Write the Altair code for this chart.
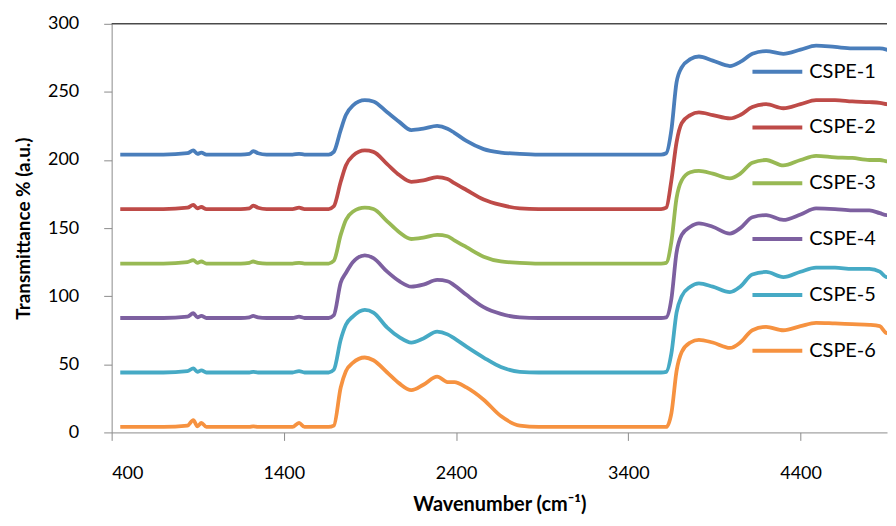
import altair as alt
import pandas as pd

series = ["CSPE-1", "CSPE-2", "CSPE-3", "CSPE-4", "CSPE-5", "CSPE-6"]
colors = ["#4A7EBB", "#BE4B48", "#98B954", "#7D60A0", "#46AAC5", "#F69240"]

wn = [450, 700, 840, 874, 898, 921, 950, 1150, 1200, 1222, 1250, 1300, 1450, 1488, 1520,
      1660, 1690, 1730, 1760, 1800, 1870, 1920, 2000, 2070, 2140, 2210, 2290, 2350, 2390,
      2460, 2560, 2660, 2770, 2880, 3000, 3590, 3620, 3650, 3680, 3710, 3760, 3810, 3890,
      3990, 4050, 4120, 4200, 4300, 4400, 4490, 4600, 4700, 4800, 4860, 4900, 4960]

t1 = [204, 204, 205, 207, 204.5, 205.5, 204, 204, 204.5, 206.5, 205, 204, 204, 204.5, 204,
      204, 206, 222, 233, 240, 244, 243, 235, 228, 222, 223, 225, 223, 220,
      214, 208, 205.5, 204.5, 204, 204, 204, 205, 222, 257, 268, 274, 276, 273,
      269, 272, 278, 280, 278, 281, 284, 283, 282, 282, 282, 281, 277]
t2 = [164, 164, 165, 167, 164.5, 165.5, 164, 164, 164.5, 166.5, 165, 164, 164, 165, 164,
      164, 166, 184, 196, 203, 207, 206, 197, 189, 184, 185, 187.5, 186, 183,
      178, 171, 167, 164.5, 164, 164, 164, 165, 185, 213, 227, 233, 235, 233,
      230.5, 233, 239, 241, 238, 241, 244, 244, 243, 242.5, 242, 241, 240]
t3 = [124, 124, 125, 126.5, 124.5, 125.5, 124, 124, 124.5, 125.5, 124.5, 124, 124, 124.5, 124,
      124, 126, 145, 156, 162, 165, 164, 155, 147, 142, 143, 145, 144, 141,
      136, 129, 125.5, 124.5, 124, 124, 124, 124.5, 140, 172, 185, 191, 192, 190,
      186.5, 190, 198, 200, 196, 200, 203, 202, 201.5, 200, 200, 199, 198]
t4 = [84, 84, 85, 87.5, 84.5, 85.5, 84, 84, 84.5, 85.5, 84.5, 84, 84, 85, 84,
      84, 86, 110, 117, 125, 130, 128, 118, 111, 107, 108.5, 112, 111, 108,
      101, 92, 87, 84.5, 84, 84, 84, 84.5, 98, 132, 145, 151, 153.5, 151,
      146, 150, 158, 159.5, 156, 160, 164.5, 164, 163, 163, 161, 159.5, 162]
t5 = [44, 44, 45, 47, 44.5, 45.5, 44, 44, 44, 44.5, 44, 44, 44, 45, 44,
      44, 46, 68, 79, 85, 90, 88, 77, 70, 66, 69, 74, 72, 69,
      63, 55, 48, 44.5, 44, 44, 44, 44.5, 58, 88, 100, 107, 109.5, 107,
      103, 107, 116, 117.8, 114, 118, 121, 121, 120, 120, 118, 114, 121]
t6 = [4, 4, 5, 9, 4.5, 7, 4, 4, 4, 4.5, 4, 4, 4, 7, 4,
      4, 5, 33, 45, 51, 55, 53, 44, 36, 31, 35, 41, 37, 37,
      33, 24, 12, 5, 4, 4, 4, 4, 14, 45, 59, 66, 68, 66,
      62, 66, 75, 77.5, 75, 78, 80.5, 80, 79.5, 79, 78, 73, 81]

x_ticks = [400, 1400, 2400, 3400, 4400]
y_ticks = [0, 50, 100, 150, 200, 250, 300]

values = [t1, t2, t3, t4, t5, t6]
rows = []
for name, vals in zip(series, values):
    for w, v in zip(wn, vals):
        rows.append({"series": name, "wn": w, "t": v})
df = pd.DataFrame(rows)

FONT = "Lato"

x_scale = alt.Scale(domain=[400, 4902], nice=False, zero=False)
y_scale = alt.Scale(domain=[0, 300], nice=False)

lines = alt.Chart(df).mark_line(strokeWidth=3.8, interpolate="monotone", clip=True).encode(
    x=alt.X("wn:Q", scale=x_scale,
            axis=alt.Axis(values=x_ticks, format="d", title="Wavenumber (cm⁻¹)",
                          grid=False, tickSize=8, labelPadding=24, titlePadding=12,
                          domainColor="#8c8c8c", tickColor="#8c8c8c",
                          labelFontSize=18, titleFontSize=20, labelFont=FONT, titleFont=FONT,
                          labelColor="#000000", titleColor="#000000", titleFontWeight="bold")),
    y=alt.Y("t:Q", scale=y_scale,
            axis=alt.Axis(values=y_ticks, format="d", title="Transmittance % (a.u.)",
                          grid=False, tickSize=8, labelPadding=25, titlePadding=14,
                          domainColor="#8c8c8c", tickColor="#8c8c8c",
                          labelFontSize=18, titleFontSize=19, labelFont=FONT, titleFont=FONT,
                          labelColor="#000000", titleColor="#000000", titleFontWeight="bold")),
    color=alt.Color("series:N", sort=series,
                    scale=alt.Scale(domain=series, range=colors),
                    legend=alt.Legend(title=None, orient="none", legendX=641, legendY=21,
                                      symbolType="stroke", symbolSize=2500, symbolStrokeWidth=4,
                                      labelFontSize=20, labelFont=FONT, labelColor="#000000",
                                      labelOffset=5, rowPadding=19, padding=0)),
)

top_df = pd.DataFrame({"y": [300]})
top_rule = alt.Chart(top_df).mark_rule(color="#4a4a4a", strokeWidth=1.6).encode(
    y=alt.Y("y:Q", scale=y_scale)
)

chart = alt.layer(lines, top_rule).properties(
    width=778, height=410,
    padding={"left": 6, "top": 6, "right": 0, "bottom": 0},
).configure_view(stroke=None)

chart.save("out.html", embed_options={"renderer": "svg", "actions": False})
